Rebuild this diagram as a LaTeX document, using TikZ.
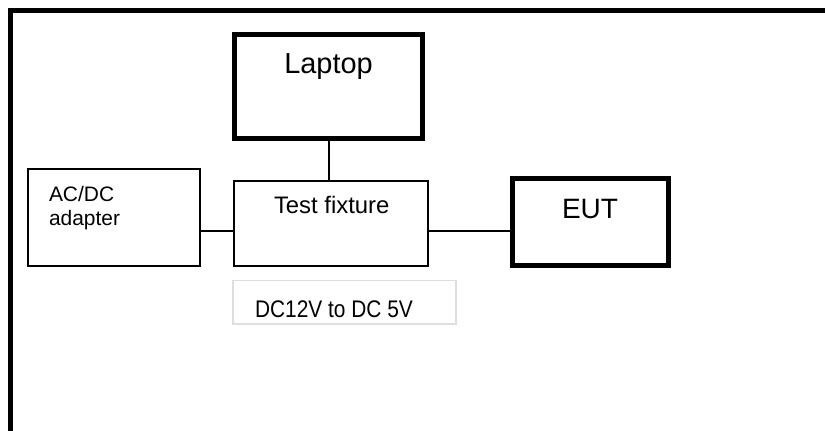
\documentclass[tikz,border=0pt]{standalone}
\usepackage{fontspec}
\setmainfont{Liberation Sans}
\begin{document}
\begin{tikzpicture}[x=0.75pt,y=-0.75pt,
  thickbox/.style={draw=black,line width=3.75pt,inner sep=0pt,rectangle},
  thinbox/.style={draw=black,line width=1.5pt,inner sep=0pt,rectangle},
  notebox/.style={draw=black!13,line width=0.9pt,inner sep=0pt,rectangle},
  wire/.style={draw=black,line width=1.5pt},
  lbl/.style={inner sep=0pt,outer sep=0pt}]
\useasboundingbox (0,0) rectangle (825,431);
% outer frame (top and left sides only)
\draw[line width=3.75pt] (10.5,440) -- (10.5,10.5) -- (840,10.5);
% boxes
\node[thickbox,minimum width=188*0.75pt,minimum height=104*0.75pt] (laptop) at (328.5,86.5) {};
\node[thinbox,minimum width=194*0.75pt,minimum height=85.3*0.75pt] (fixture) at (331,223.35) {};
\node[thinbox,minimum width=172*0.75pt,minimum height=97*0.75pt] (adapter) at (114,217.5) {};
\node[thickbox,minimum width=156*0.75pt,minimum height=86.5*0.75pt] (eut) at (590,222.25) {};
\node[notebox,minimum width=223*0.75pt,minimum height=43.3*0.75pt] (note) at (344.5,302.35) {};
% texts
\node[lbl,anchor=base] (tlaptop) at (328.5,74) {\fontsize{21.7}{26}\selectfont Laptop};
\node[lbl,anchor=base] (tfixture) at (331.7,214) {\fontsize{17.9}{21}\selectfont Test fixture};
\node[lbl,anchor=base west,align=left,font=\fontsize{15.7}{18.5}\selectfont] (tadapter) at (49,225.7) {AC/DC\\adapter};
\node[lbl,anchor=base] (teut) at (590,219) {\fontsize{21}{25}\selectfont EUT};
\node[lbl,anchor=base west] (tnote) at (255,317.7) {\fontsize{18}{21}\selectfont\scalebox{0.87}[1]{DC12V to DC 5V}};
% connectors
\coordinate (ylev) at (0,230.7);
\draw[wire] (laptop.south) -- (laptop.south |- fixture.north);
\draw[wire] (adapter.east |- ylev) -- (fixture.west |- ylev);
\draw[wire] (fixture.east |- ylev) -- (eut.west |- ylev);
\end{tikzpicture}
\end{document}
